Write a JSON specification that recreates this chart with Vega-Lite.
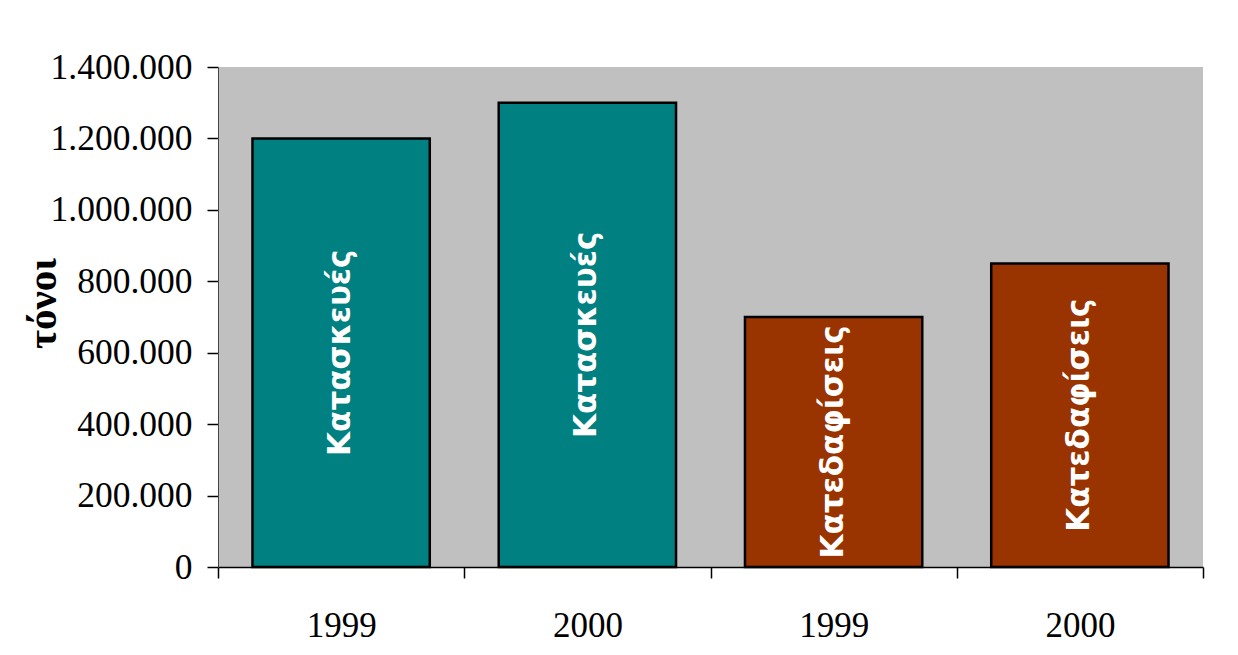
{
  "$schema": "https://vega.github.io/schema/vega-lite/v6.json",
  "autosize": "none",
  "width": 985,
  "height": 500,
  "padding": {"left": 218, "top": 67, "right": 35, "bottom": 88},
  "background": "white",
  "config": {
    "view": {"fill": "#c0c0c0", "stroke": null},
    "locale": {"number": {"decimal": ",", "thousands": ".", "grouping": [3], "currency": ["", "€"]}}
  },
  "data": {
    "values": [
      {"key": "1999a", "year": "1999", "category": "Κατασκευές", "tonnes": 1200000},
      {"key": "2000a", "year": "2000", "category": "Κατασκευές", "tonnes": 1300000},
      {"key": "1999b", "year": "1999", "category": "Κατεδαφίσεις", "tonnes": 700000},
      {"key": "2000b", "year": "2000", "category": "Κατεδαφίσεις", "tonnes": 850000}
    ]
  },
  "encoding": {
    "x": {
      "field": "key", "type": "nominal", "sort": null,
      "scale": {"paddingInner": 0, "paddingOuter": 0},
      "axis": {
        "title": null, "labelAngle": 0, "tickBand": "extent",
        "labelExpr": "substring(datum.label, 0, 4)",
        "labelFont": "Liberation Serif", "labelFontSize": 35, "labelColor": "#000",
        "labelPadding": 30, "tickSize": 11, "tickColor": "#000", "domainColor": "#000",
        "domainWidth": 1.5, "tickWidth": 1.5, "grid": false
      }
    }
  },
  "layer": [
    {
      "mark": {"type": "bar", "stroke": "#000", "strokeWidth": 2.5, "width": {"band": 0.72}},
      "encoding": {
        "y": {
          "field": "tonnes", "type": "quantitative",
          "scale": {"domain": [0, 1400000], "nice": false},
          "axis": {
            "title": "τόνοι", "titleFont": "Liberation Serif", "titleFontSize": 41, "titleFontWeight": "bold",
            "titleColor": "#000", "titleX": -175, "titleY": 236, "titleAlign": "center", "titleBaseline": "middle",
            "values": [0, 200000, 400000, 600000, 800000, 1000000, 1200000, 1400000],
            "format": ",d",
            "labelFont": "Liberation Serif", "labelFontSize": 35.5, "labelColor": "#000",
            "labelPadding": 15, "tickSize": 11, "tickColor": "#000", "domainColor": "#444",
            "grid": false, "tickWidth": 1.5
          }
        },
        "color": {
          "field": "category", "type": "nominal",
          "scale": {"domain": ["Κατασκευές", "Κατεδαφίσεις"], "range": ["#008080", "#993300"]},
          "legend": null
        }
      }
    },
    {
      "transform": [{"calculate": "datum.tonnes / 2", "as": "mid"}],
      "mark": {"type": "text", "angle": 270, "color": "white", "font": "DejaVu Sans", "fontWeight": "bold", "fontSize": 31, "align": "center", "baseline": "middle"},
      "encoding": {
        "y": {"field": "mid", "type": "quantitative"},
        "text": {"field": "category"}
      }
    }
  ]
}
